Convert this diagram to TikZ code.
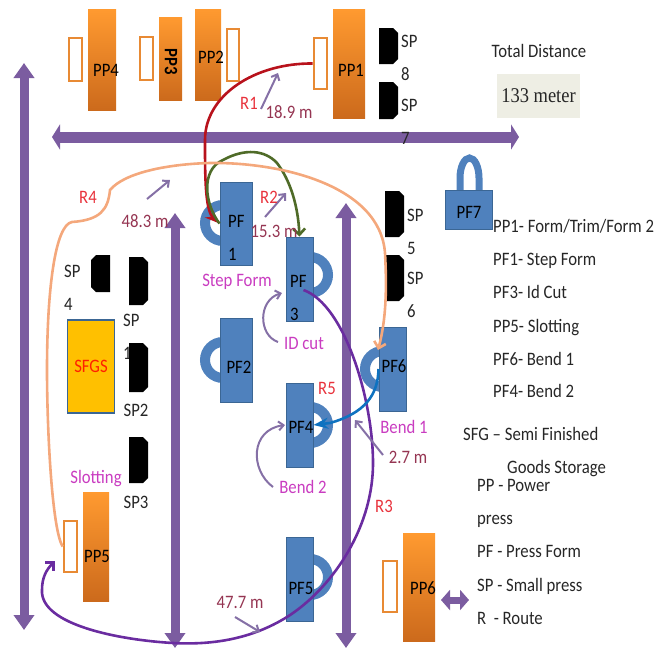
\documentclass[tikz,border=0pt]{standalone}
\usepackage{fontspec}
\setmainfont[FakeStretch=0.88]{Carlito}
\newfontfamily\seriffont[FakeStretch=0.88]{Liberation Serif}
\usetikzlibrary{arrows.meta}
\definecolor{aislec}{HTML}{7B5CA0}
\definecolor{pfc}{HTML}{4F81BD}
\definecolor{pfb}{HTML}{3B6694}
\definecolor{thinc}{HTML}{8570A6}
\definecolor{distc}{HTML}{953552}
\definecolor{stagec}{HTML}{C93CC0}
\definecolor{redc}{HTML}{E8323C}
\definecolor{txtc}{HTML}{262626}
\definecolor{pptop}{HTML}{FF9A30}
\definecolor{ppbot}{HTML}{CC6A1C}
\definecolor{pinc}{HTML}{E88A34}
\definecolor{r1c}{HTML}{B8121C}
\definecolor{r2c}{HTML}{4F6B28}
\definecolor{r3c}{HTML}{6A2CA0}
\definecolor{r4c}{HTML}{F4A87C}
\definecolor{r5c}{HTML}{0E72C0}
\begin{document}
\begin{tikzpicture}[x=1pt,y=-1pt,>=Stealth,font=\fontsize{19}{33}\selectfont,
 pp/.style={rectangle,inner sep=0pt,top color=pptop,bottom color=ppbot,draw=none},
 pin/.style={rectangle,inner sep=0pt,draw=pinc,line width=2.6pt,fill=white},
 pf/.style={rectangle,inner sep=0pt,fill=pfc,draw=pfb,line width=1pt},
 hnd/.style={circle,inner sep=0pt,minimum size=36pt,draw=pfc,line width=10pt},
 aisle/.style={draw=aislec,line width=9pt,{Triangle[length=15pt,width=20pt]}-{Triangle[length=15pt,width=20pt]}},
 thin/.style={->,draw=thinc,line width=2pt,>={Straight Barb[length=5pt,width=9pt]}},
 route/.style={line width=2.6pt,->,>={Straight Barb[length=6pt,width=12pt]}},
 lbl/.style={text=txtc,inner sep=0pt},
 ppl/.style={text=black,inner sep=0pt},
 leg/.style={text=txtc,inner sep=0pt,anchor=base west},
 rt/.style={text=redc,inner sep=0pt},
 dist/.style={text=distc,inner sep=0pt},
 stg/.style={text=stagec,inner sep=0pt}]
\useasboundingbox (0,0) rectangle (667,648);
% aisles
\coordinate (a1) at (24,63); \coordinate (a2) at (24,630);
\coordinate (b1) at (175,213); \coordinate (b2) at (175,648);
\coordinate (c1) at (346,203); \coordinate (c2) at (346,648);
\coordinate (d1) at (52,137); \coordinate (d2) at (519,137);
\coordinate (e1) at (441,600); \coordinate (e2) at (469,600);
\draw[aisle] (a1) -- (a2);
\draw[aisle] (b1) -- (b2);
\draw[aisle] (c1) -- (c2);
\draw[draw=aislec,line width=11pt,{Triangle[length=8pt,width=25pt]}-{Triangle[length=8pt,width=25pt]}] (d1) -- (d2);
\draw[draw=aislec,line width=7pt,{Triangle[length=9pt,width=20pt]}-{Triangle[length=9pt,width=20pt]}] (e1) -- (e2);
% power presses
\node[pp,minimum width=28pt,minimum height=101pt] (pp4) at (102,60) {};
\node[pin,minimum width=13pt,minimum height=43pt] (pin4) at (75.5,59.5) {};
\node[pp,minimum width=23pt,minimum height=83pt] (pp3) at (170.5,58.5) {};
\node[pin,minimum width=13pt,minimum height=43pt] (pin3) at (146.5,58.5) {};
\node[pp,minimum width=26pt,minimum height=91pt] (pp2) at (208,54.5) {};
\node[pin,minimum width=12pt,minimum height=52pt] (pin2) at (233,55) {};
\node[pp,minimum width=32pt,minimum height=109pt] (pp1) at (349,63.5) {};
\node[pin,minimum width=13pt,minimum height=51pt] (pin1) at (320.5,63.5) {};
\node[pp,minimum width=26pt,minimum height=109pt] (pp5) at (96,546.5) {};
\node[pin,minimum width=13pt,minimum height=51pt] (pin5) at (70.5,546.5) {};
\node[pp,minimum width=32pt,minimum height=108pt] (pp6) at (419,587) {};
\node[pin,minimum width=14pt,minimum height=51pt] (pin6) at (390,586.5) {};
\node[ppl] (pp4t) at (106,70) {PP4};
\node[ppl,rotate=-90,font=\fontsize{19}{33}\selectfont\bfseries] (pp3t) at (171,62) {PP3};
\node[ppl] (pp2t) at (211,57) {PP2};
\node[ppl] (pp1t) at (351,70) {PP1};
\node[ppl] (pp5t) at (97,556) {PP5};
\node[ppl] (pp6t) at (423,588) {PP6};
% small presses
\node[lbl,align=left,anchor=west] (sp1t) at (123,337) {SP\\1};
\foreach \x/\y/\h in {379/28/36,379/82/37,385/191/46,385/255/46,129/257/48,129/343/49,129/437/46}
  \fill[black] (\x,\y) -- ++(14,0) -- ++(5,5) -- ++(0,\h-10) -- ++(-5,5) -- ++(-14,0) -- cycle;
\fill[black] (110,255) -- ++(-14,0) -- ++(-5,5) -- ++(0,27) -- ++(5,5) -- ++(14,0) -- cycle;
\node[lbl,align=left,anchor=west] (sp8t) at (401,58) {SP\\8};
\node[lbl,align=left,anchor=west] (sp7t) at (401,122) {SP\\7};
\node[lbl,align=left,anchor=west] (sp5t) at (407,232) {SP\\5};
\node[lbl,align=left,anchor=west] (sp6t) at (407,295) {SP\\6};
\node[lbl,align=left,anchor=west] (sp4t) at (64,288) {SP\\4};
\node[lbl] (sp2t) at (136,410) {SP2};
\node[lbl] (sp3t) at (136,502) {SP3};
% press forms
\node[hnd] (pf1h) at (223,223) {};
\node[hnd] (pf2h) at (223,360) {};
\node[hnd] (pf3h) at (310,275) {};
\node[hnd] (pf4h) at (310,425) {};
\node[hnd] (pf5h) at (310,577) {};
\node[hnd] (pf6h) at (383,369) {};
\node[pf,minimum width=32pt,minimum height=83pt] (pf1) at (236,223.5) {};
\node[pf,minimum width=32pt,minimum height=84pt] (pf2) at (236,360) {};
\node[pf,minimum width=27pt,minimum height=84pt] (pf3) at (299.5,279) {};
\node[pf,minimum width=27pt,minimum height=84pt] (pf4) at (299.5,425) {};
\node[pf,minimum width=27pt,minimum height=84pt] (pf5) at (299.5,579) {};
\node[pf,minimum width=27pt,minimum height=84pt] (pf6) at (392.5,369) {};
\draw[draw=pfc,line width=7pt] (460,190) -- (460,178) arc[start angle=180,end angle=0,x radius=9.5pt,y radius=20pt] -- (479,190) coordinate (pf7a);
\node[pf,minimum width=47pt,minimum height=39pt] (pf7) at (469,209.5) {};
\node[ppl,align=left,anchor=west] (pf1t) at (228,238) {PF\\1};
\node[ppl] (pf2t) at (239,367) {PF2};
\node[ppl,align=left,anchor=west] (pf3t) at (290,298) {PF\\3};
\node[ppl] (pf4t) at (301,427) {PF4};
\node[ppl] (pf5t) at (301,588) {PF5};
\node[ppl] (pf6t) at (394,366) {PF6};
\node[ppl] (pf7t) at (469,212) {PF7};
% storage
\node[rectangle,inner sep=0pt,fill={rgb,255:red,255;green,192;blue,0},draw=pfb,line width=1.2pt,minimum width=47pt,minimum height=93pt,text=red!75!orange] (sfgs) at (91,366.5) {SFGS};
% routes
\coordinate (r3e) at (55,561);
\coordinate (r4e) at (378,350);
\draw[route,draw=r1c,>=Stealth] (pin1.west) .. controls (255,63) and (205,95) .. (205,140) .. controls (205,175) and (205,210) .. (pf1.west);
\draw[route,draw=r2c] (pf1.west) .. controls (205,205) and (200,170) .. (223,160) .. controls (245,148) and (265,150) .. (277,163) .. controls (290,180) and (298,205) .. (pf3.north);
\draw[route,draw=r4c] (pin5.west) .. controls (52,530) and (47,430) .. (47,370) .. controls (47,290) and (55,225) .. (72,222) .. controls (100,220) and (108,210) .. (110,190) .. controls (125,172) and (170,164) .. (210,163) .. controls (280,162) and (380,185) .. (385,253) .. controls (387,290) and (386,320) .. (r4e);
\draw[route,draw=r3c] (pf3.center) ++(4,11) coordinate (r3a) .. controls (345,305) and (373,400) .. (373,463) .. controls (373,530) and (330,590) .. (287,617) .. controls (250,640) and (210,645) .. (173,643) .. controls (120,640) and (40,625) .. (42,590) .. controls (42,578) and (46,570) .. (r3e);
\draw[route,draw=r5c,>=Stealth] (pf6.west) .. controls (378,395) and (365,413) .. (330,423) -- (pf4.east);
% indicators
\coordinate (i1a) at (261,109); \coordinate (i1b) at (278,73);
\coordinate (i2a) at (147,199); \coordinate (i2b) at (170,180);
\coordinate (i3a) at (265,217); \coordinate (i3b) at (286,193);
\coordinate (i4a) at (235,617); \coordinate (i4b) at (260,632);
\coordinate (i5a) at (383,455); \coordinate (i5b) at (355,420);
\draw[thin] (i1a) -- (i1b);
\draw[thin] (i2a) -- (i2b);
\draw[thin] (i3a) -- (i3b);
\draw[thin] (i4a) -- (i4b);
\draw[thin] (i5a) -- (i5b);
\draw[thin] (278,342) coordinate (i6a) .. controls (258,335) and (258,300) .. (282,293);
\draw[thin] (273,487) coordinate (i7a) .. controls (250,470) and (250,430) .. (285,425);
% route labels
\node[rt] (r1) at (249,103) {R1};
\node[rt] (r2) at (269,197) {R2};
\node[rt] (r3) at (384,506) {R3};
\node[rt] (r4) at (88,197) {R4};
\node[rt] (r5) at (327,388) {R5};
\node[dist] (d189) at (289,112) {18.9 m};
\node[dist] (d153) at (274,231) {15.3 m};
\node[dist] (d483) at (145,221) {48.3 m};
\node[dist] (d27) at (408,457) {2.7 m};
\node[dist] (d477) at (240,602) {47.7 m};
\node[stg] (s1) at (237,282) {Step Form};
\node[stg] (s2) at (304,343) {ID cut};
\node[stg] (s3) at (303,487) {Bend 2};
\node[stg] (s4) at (404,427) {Bend 1};
\node[stg] (s5) at (96,479) {Slotting};
% legend
\node[lbl] (tot) at (539,51) {Total Distance};
\node[rectangle,inner sep=0pt,fill={rgb,255:red,238;green,238;blue,228},minimum width=83pt,minimum height=44pt,text=txtc,font=\seriffont\fontsize{21}{24}\selectfont] (mtr) at (538.5,96) {133 meter};
\node[leg] (l1) at (493,232) {PP1- Form/Trim/Form 2};
\node[leg] (l2) at (493,265) {PF1- Step Form};
\node[leg] (l3) at (493,298) {PF3- Id Cut};
\node[leg] (l4) at (493,332) {PP5- Slotting};
\node[leg] (l5) at (493,365) {PF6- Bend 1};
\node[leg] (l6) at (493,397) {PF4- Bend 2};
\node[leg] (l7) at (463,440) {SFG –  Semi Finished};
\node[leg] (l8) at (507,473) {Goods Storage};
\node[leg] (l9) at (477,491) {PP - Power};
\node[leg] (l10) at (477,524) {press};
\node[leg] (l11) at (477,557) {PF - Press Form};
\node[leg] (l12) at (477,591) {SP - Small press};
\node[leg] (l13) at (477,624) {R \ - Route};
\end{tikzpicture}
\end{document}
